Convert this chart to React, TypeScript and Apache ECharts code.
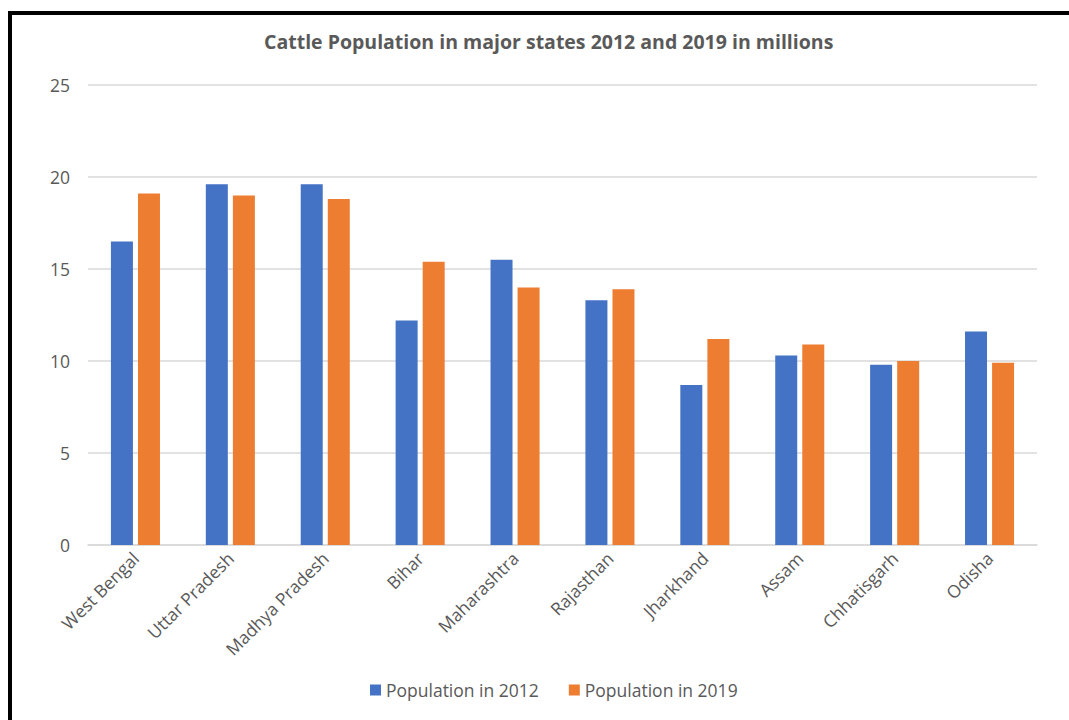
import React, { useEffect, useRef } from "react";
import * as echarts from "echarts";

const categories = ["West Bengal", "Uttar Pradesh", "Madhya Pradesh", "Bihar", "Maharashtra", "Rajasthan", "Jharkhand", "Assam", "Chhatisgarh", "Odisha"];
const pop2012 = [16.5, 19.6, 19.6, 12.2, 15.5, 13.3, 8.7, 10.3, 9.8, 11.6];
const pop2019 = [19.1, 19.0, 18.8, 15.4, 14.0, 13.9, 11.2, 10.9, 10.0, 9.9];
const seriesNames = ["Population in 2012", "Population in 2019"];
const titleText = "Cattle Population in major states 2012 and 2019 in millions";

const FONT = "'Open Sans', 'Noto Sans', sans-serif";
const TXT = "#595959";

export default function App() {
  const ref = useRef<HTMLDivElement>(null);
  useEffect(() => {
    if (!ref.current) return;
    const chart = echarts.init(ref.current, null, { renderer: "svg" });
    chart.setOption({
      animation: false,
      backgroundColor: "#ffffff",
      textStyle: { fontFamily: FONT },
      title: {
        text: titleText,
        left: 259,
        top: 26,
        textStyle: { fontFamily: FONT, fontSize: 19.5, fontWeight: "bold", color: TXT },
      },
      legend: {
        data: seriesNames,
        left: 365,
        top: 676,
        itemWidth: 11,
        itemHeight: 11,
        itemGap: 30,
        icon: "rect",
        textStyle: { fontFamily: FONT, fontSize: 17.5, color: TXT },
      },
      grid: { left: 88, right: 32, top: 85, bottom: 175, containLabel: false },
      xAxis: {
        type: "category",
        data: categories,
        axisTick: { show: false },
        axisLine: { lineStyle: { color: "#d9d9d9", width: 1.5 } },
        axisLabel: { rotate: 45, fontSize: 17.5, color: TXT, margin: 10, fontFamily: FONT, interval: 0 },
      },
      yAxis: {
        type: "value",
        min: 0,
        max: 25,
        interval: 5,
        axisLine: { show: false },
        axisTick: { show: false },
        splitLine: { lineStyle: { color: "#d9d9d9", width: 1.5 } },
        axisLabel: { fontSize: 17.5, color: TXT, margin: 18, fontFamily: FONT },
      },
      series: [
        {
          name: seriesNames[0],
          type: "bar",
          data: pop2012,
          barWidth: 22,
          barGap: "23%",
          itemStyle: { color: "#4472C4" },
        },
        {
          name: seriesNames[1],
          type: "bar",
          data: pop2019,
          barWidth: 22,
          barGap: "23%",
          itemStyle: { color: "#ED7D31" },
        },
      ],
      graphic: [
        {
          type: "rect",
          shape: { x: 10, y: 13, width: 1200, height: 900 },
          style: { fill: "none", stroke: "#000000", lineWidth: 4 },
          silent: true,
        },
      ],
    });
    return () => chart.dispose();
  }, []);
  return (
    <div
      ref={ref}
      style={{ position: "absolute", left: 0, top: 0, width: 1069, height: 720 }}
    />
  );
}
